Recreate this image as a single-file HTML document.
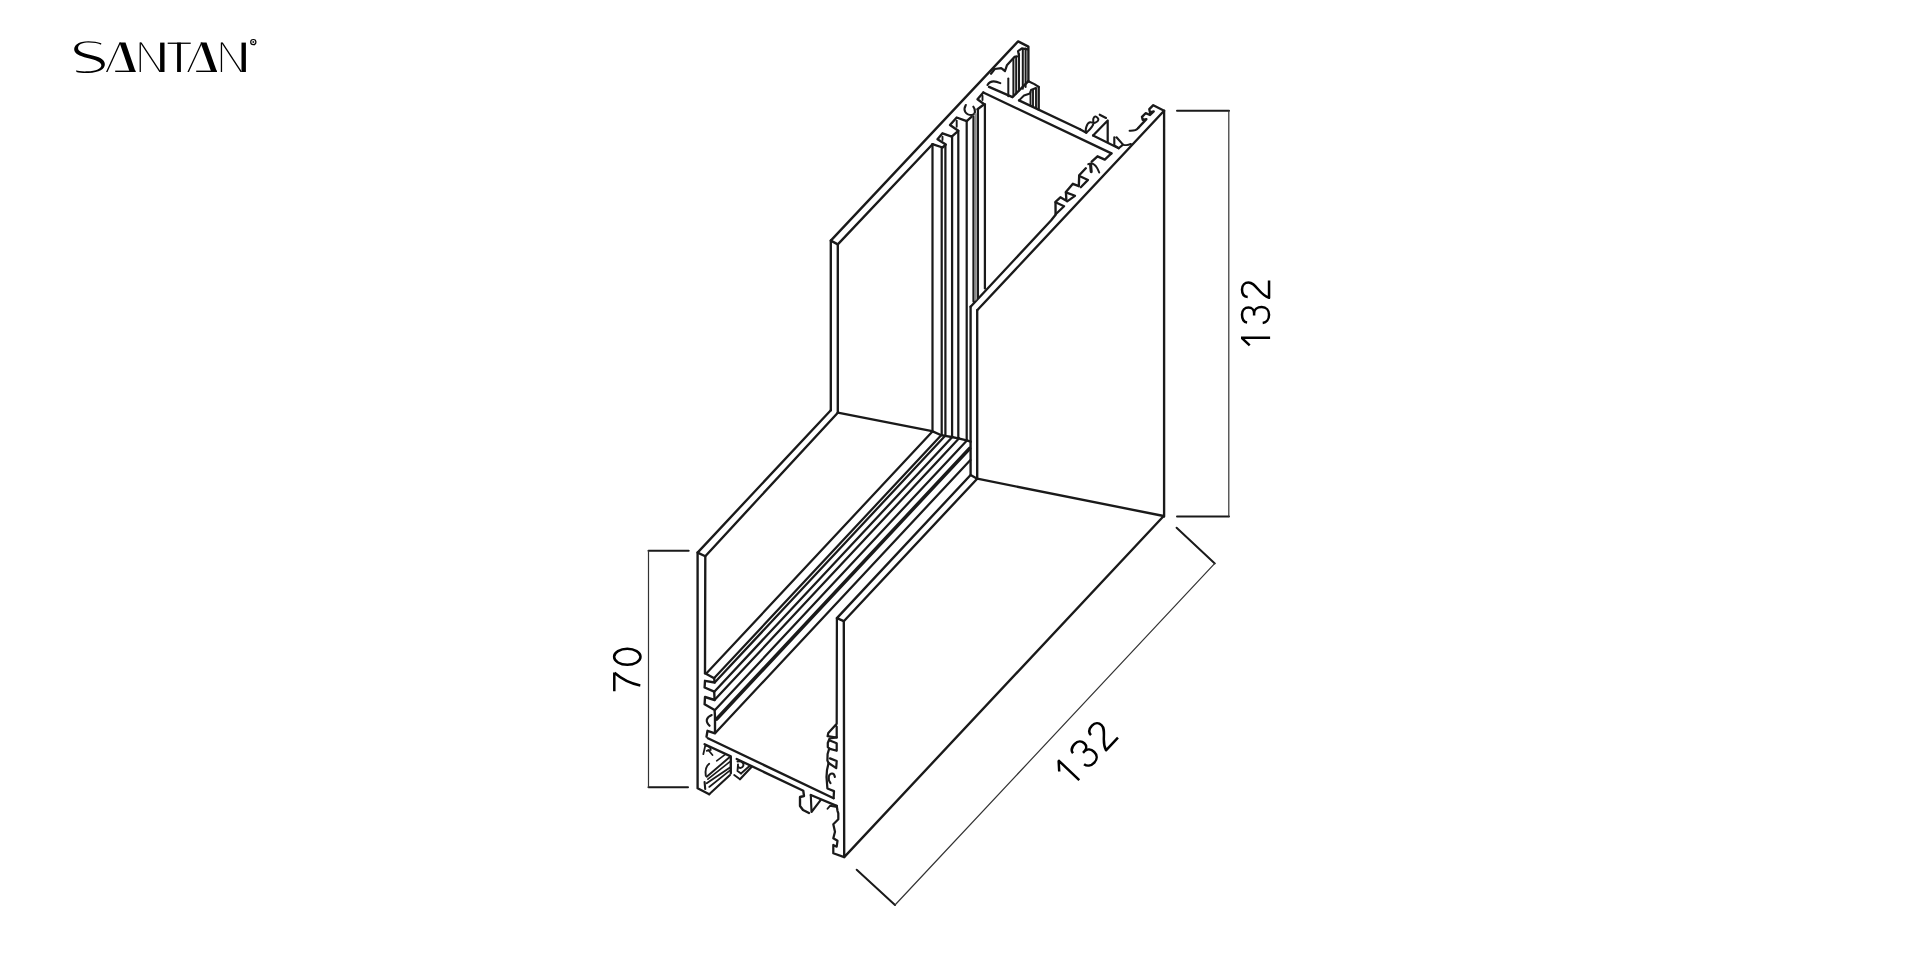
<!DOCTYPE html>
<html><head><meta charset="utf-8"><title>SANTAN profile</title>
<style>
html,body{margin:0;padding:0;background:#fff;width:1920px;height:960px;overflow:hidden}
svg{position:absolute;left:0;top:0}
</style></head><body>
<svg width="1920" height="960" viewBox="0 0 1920 960">
<rect width="1920" height="960" fill="#fff"/>

<path d="M101.34,43.34 C96.09,41.48 87.34,40.72 81.87,42.03 C76.41,43.34 74.00,46.41 74.22,49.69 C74.44,53.52 79.14,55.70 87.34,57.89 C96.09,60.08 101.01,61.72 101.34,65.00 C101.56,68.83 96.09,71.01 87.34,71.34 C81.87,71.56 78.05,71.01 76.19,70.25 L76.41,72.11 C79.69,72.87 84.06,73.20 88.44,72.98 C99.37,72.44 105.06,68.83 104.84,63.91 C104.62,58.98 98.83,56.80 90.62,54.94 C81.87,52.97 78.05,51.33 78.05,48.05 C78.05,44.22 82.97,42.58 88.98,42.58 C93.91,42.58 98.28,43.34 101.01,44.77 Z" fill="#000"/>
<path d="M106,72 L119.5,42.6 L120.9,42.6 L107.5,72 Z" fill="#000"/>
<path d="M119.5,42.6 L125.5,42.6 L135.6,72 L129.7,72 Z" fill="#000"/>
<path d="M115.2,70.6 L135.6,70.6 L135.6,72 L115.2,72 Z" fill="#000"/>
<path d="M139.6,42.6 L140.9,42.6 L140.9,72 L139.6,72 Z" fill="#000"/>
<path d="M140,42.6 L141.6,42.6 L161,72 L159.4,72 Z" fill="#000"/>
<path d="M160.1,42.6 L164.5,42.6 L164.5,72 L160.1,72 Z" fill="#000"/>
<path d="M167.7,42.6 L190.7,42.6 L190.7,43.9 L167.7,43.9 Z" fill="#000"/>
<path d="M177.1,42.6 L180.9,42.6 L180.9,72 L177.1,72 Z" fill="#000"/>
<path d="M187.4,72 L201.2,42.6 L202.5,42.6 L188.9,72 Z" fill="#000"/>
<path d="M200.5,42.6 L206.5,42.6 L217,72 L211.3,72 Z" fill="#000"/>
<path d="M196.2,70.6 L217,70.6 L217,72 L196.2,72 Z" fill="#000"/>
<path d="M220.8,42.6 L222.1,42.6 L222.1,72 L220.8,72 Z" fill="#000"/>
<path d="M221.2,42.6 L222.8,42.6 L242.1,72 L240.5,72 Z" fill="#000"/>
<path d="M241.5,42.6 L245.9,42.6 L245.9,72 L241.5,72 Z" fill="#000"/>
<circle cx="253.3" cy="42.1" r="2.6" fill="none" stroke="#000" stroke-width="1.2"/>
<circle cx="253.3" cy="42.1" r="1" fill="#222"/>

<g fill="none" stroke="#111" stroke-width="1.3" stroke-linecap="butt">
<path d="M1177,110.8 H1229" stroke-width="2.0" stroke="#1a1a1a" stroke-linecap="round"/>
<path d="M1177,516.6 H1229" stroke-width="2.0" stroke="#1a1a1a" stroke-linecap="round"/>
<path d="M1228.8,110.8 V516.6" stroke-width="1.2" stroke="#333" stroke-linecap="round"/>
<path d="M688.7,550.8 H648.5" stroke-width="2.0" stroke="#1a1a1a" stroke-linecap="round"/>
<path d="M688,787.3 H648.5" stroke-width="2.0" stroke="#1a1a1a" stroke-linecap="round"/>
<path d="M648.5,550.8 V787.3" stroke-width="1.2" stroke="#333" stroke-linecap="round"/>
<path d="M1176.6,527.8 L1214.8,563.4" stroke-width="2.0" stroke="#1a1a1a" stroke-linecap="round"/>
<path d="M895,905 L856.7,869.8" stroke-width="2.0" stroke="#1a1a1a" stroke-linecap="round"/>
<path d="M1214.8,563.4 L895,905" stroke-width="1.2" stroke="#333" stroke-linecap="round"/>
</g>
<g fill="none" stroke="#1a1a1a" stroke-linejoin="round" stroke-linecap="round">
<path d="M830.8,410.2 L830.8,240.6 L1018.1,41.4 L1028.4,46.6 L1028.4,81.2" stroke-width="2.36"/>
<path d="M1038.7,86.9 L1038.7,109.4" stroke-width="2.36"/>
<path d="M830.8,240.6 L837.8,244.4" stroke-width="2.36"/>
<path d="M837.8,412.7 L837.8,244.4 L932.5,144.2" stroke-width="2.36"/>
<path d="M932.5,144.2 L942.5,147.5 L945.8,144.6 L937.5,139.2 L942.5,133.3 L951.7,136.7 L958.3,130.8 L950.0,125.0 L956.7,117.5 L966.7,121.2 L971.7,116.7" stroke-width="2.36"/>
<path d="M965.8,105 C963,110 965,115 971.7,115 C975.5,115 976,110 973.3,106.7" stroke-width="2.12"/>
<path d="M942.5,136.7 L942.5,140.0" stroke-width="1.89"/>
<path d="M956.7,120.8 L956.7,126.7" stroke-width="1.89"/>
<path d="M982.5,95.8 L982.5,100.0" stroke-width="1.89"/>
<path d="M977.5,109.2 L984.2,104.2 L977.5,99.2 L983.3,92.5" stroke-width="2.36"/>
<path d="M983.3,92.5 L1111.4,153.4" stroke-width="2.36"/>
<path d="M989.0,86.9 L1012.5,97.2 L1028.4,81.2" stroke-width="2.36"/>
<path d="M1019.0,100.4 L1080.0,129.3" stroke-width="2.36"/>
<path d="M987.5,85 Q991,79 1000.3,83.1" stroke-width="2.12"/>
<path d="M991.0,73.7 L994.7,69.0 L1001.2,68.1 L1005.0,71.0 L1006.9,65.3 L1014.4,56.9 L1019.0,55.9 L1018.1,51.2 L1021.9,48.4 L1027.5,49.4" stroke-width="2.24"/>
<path d="M1008.3,78.4 L1008.3,96.2" stroke-width="2.01"/>
<path d="M1013.4,58.7 L1013.4,95.3" stroke-width="2.01"/>
<path d="M1016.2,57.8 L1016.2,93.4" stroke-width="2.01"/>
<path d="M1019.0,54.0 L1019.0,90.6" stroke-width="2.01"/>
<path d="M1022.8,49.4 L1022.8,88.7" stroke-width="2.01"/>
<path d="M1025.6,48.4 L1025.6,86.9" stroke-width="2.01"/>
<path d="M1028.4,81.2 L1034.4,84.1 L1038.7,86.9" stroke-width="2.12"/>
<path d="M1019.0,100.4 L1024.0,95.5 L1030.0,93.5 L1031.0,90.0 L1036.0,88.0" stroke-width="2.01"/>
<path d="M1030.5,92.0 L1030.5,105.5" stroke-width="1.89"/>
<path d="M1033.0,90.0 L1033.0,106.7" stroke-width="1.89"/>
<path d="M1036.0,88.5 L1036.0,108.0" stroke-width="1.89"/>
<path d="M1080.0,129.3 L1086.3,132.7" stroke-width="2.24"/>
<path d="M1086.33,132.67 C1084.67,129.67 1087.00,123.00 1090.00,122.33 C1092.00,122.00 1093.67,123.67 1095.33,122.67 C1098.00,121.33 1099.33,119.67 1097.67,118.00 C1096.00,115.67 1094.00,116.00 1093.33,118.67 C1092.67,121.33 1094.67,123.67 1092.00,126.67 C1090.67,128.67 1088.00,131.33 1086.33,132.67" stroke-width="2.01"/>
<path d="M1099.7,114.7 L1106.0,118.0" stroke-width="2.12"/>
<path d="M1093.1,135.5 L1107.7,120.5 L1107.7,141.7" stroke-width="2.24"/>
<path d="M1093.1,135.5 L1118.7,148.2" stroke-width="2.36"/>
<path d="M1114.3,137.3 L1114.3,145.3 L1118.7,148.2 L1123.0,144.6 L1116.5,137.3" stroke-width="2.12"/>
<path d="M1123,144.6 Q1127,146 1131,143.9" stroke-width="1.89"/>
<path d="M1164.1,516.6 L1164.1,110.7 L1153.3,105.2 L1149.3,109.2 L1150.0,112.5 L1153.7,111.4 L1150.0,115.0 L1145.6,113.2 L1142.0,116.9 L1142.7,119.8 L1146.4,119.1 L1138.4,127.8" stroke-width="2.36"/>
<path d="M1138.4,127.8 Q1136,131 1129.6,130.7" stroke-width="2.01"/>
<path d="M977.2,310.3 L1164.1,110.7" stroke-width="2.36"/>
<path d="M1111.4,153.4 L1104.8,159.6 L1097.5,156.3 L1091.7,161.7" stroke-width="2.36"/>
<path d="M1088.3,164.2 Q1095,161 1099.2,172.5" stroke-width="2.01"/>
<path d="M1090.6,165.0 L1091.2,171.7" stroke-width="3.07"/>
<path d="M970.6,306.7 L1051.0,220.5 L1055.6,214.8 L1055.5,201.8 L1060.4,197.3 L1066.4,200.7 L1065.9,191.9 L1072.9,183.8 L1078.8,186.2 L1079.2,175.2 L1085.8,168.3" stroke-width="2.36"/>
<path d="M1055.5,202.3 L1064.1,206.2 L1055.7,214.3" stroke-width="2.24"/>
<path d="M1065.9,192.4 L1075.0,195.8 L1067.2,201.3" stroke-width="2.24"/>
<path d="M1079.4,176.0 L1088.0,179.9 L1080.8,187.2" stroke-width="2.24"/>
<path d="M970.6,306.7 L970.6,475.0 L977.2,478.7 L977.2,310.3" stroke-width="2.36"/>
<path d="M977.2,478.7 L1163.7,516.0" stroke-width="2.36"/>
<path d="M932.5,144.2 L932.5,431.2" stroke-width="2.24"/>
<path d="M941.7,147.5 L941.7,435.0" stroke-width="2.24"/>
<path d="M945.4,145.0 L945.4,435.8" stroke-width="2.24"/>
<path d="M952.1,136.7 L952.1,437.0" stroke-width="2.24"/>
<path d="M958.3,130.8 L958.3,438.3" stroke-width="2.24"/>
<path d="M966.7,121.3 L966.7,440.4" stroke-width="2.24"/>
<path d="M973.5,116.7 L973.5,301.6" stroke-width="2.24"/>
<path d="M977.9,109.2 L977.9,297.2" stroke-width="2.24"/>
<path d="M984.9,104.2 L984.9,288.4" stroke-width="2.24"/>
<path d="M975.6,114.0 L975.6,299.5" stroke-width="2.2" stroke="#8c8c8c"/>
<path d="M837.8,412.7 L932.1,431.2 L940.8,435.0 L945.0,435.8 L951.7,437.0 L958.3,438.3 L966.7,440.4 L970.6,441.7" stroke-width="2.36"/>
<path d="M830.8,410.2 L697.6,552.6 L697.6,788.3 L709.2,794.2" stroke-width="2.36"/>
<path d="M697.6,552.6 L705.3,556.2" stroke-width="2.36"/>
<path d="M837.8,412.7 L705.3,556.2 L705.0,673.3" stroke-width="2.36"/>
<path d="M932.0,432.0 L706.5,673.3" stroke-width="2.24"/>
<path d="M941.4,435.0 L714.0,678.3" stroke-width="2.24"/>
<path d="M945.2,435.8 L714.7,682.5" stroke-width="2.24"/>
<path d="M952.3,437.0 L714.3,691.7" stroke-width="2.24"/>
<path d="M959.1,438.3 L714.5,700.0" stroke-width="2.24"/>
<path d="M966.9,440.4 L715.0,710.0" stroke-width="2.24"/>
<path d="M969.6,448.5 L716.7,719.0" stroke-width="3.54"/>
<path d="M970.4,460.0 L715.3,733.0" stroke-width="2.24"/>
<path d="M970.6,475.0 L836.9,618.1 L843.8,621.2 L977.2,478.7" stroke-width="2.36"/>
<path d="M843.8,621.2 L844.2,857.1 L1163.7,516.0" stroke-width="2.36"/>
<path d="M705.0,673.3 L714.2,678.3 L714.6,682.5 L705.0,680.8 L704.6,687.5 L714.2,691.7 L714.6,700.0 L705.0,697.0 L704.6,704.2 L714.6,710.0 L715.0,716.7 L715.0,733.3 L707.5,730.8 L706.5,736.7" stroke-width="2.36"/>
<path d="M711.7,715 Q703,719 709.6,725.8" stroke-width="2.12"/>
<path d="M707.9,738.3 L833.6,798.2" stroke-width="2.36"/>
<path d="M704.6,744.2 L730.8,756.4 L730.8,773.3" stroke-width="2.36"/>
<path d="M736.7,759.0 L803.3,790.8 L804.0,796.0 L800.0,797.0 L800.0,806.0 L803.0,810.0 L809.0,813.0" stroke-width="2.36"/>
<path d="M810.8,795.0 L836.7,805.8" stroke-width="2.36"/>
<path d="M810.8,795.0 L811.5,812.0 L820.8,799.8" stroke-width="2.12"/>
<path d="M704.6,782.0 L705.2,789.0" stroke-width="2.12"/>
<path d="M703.3,754.2 L705.4,745.0 L710.0,747.5 L710.8,750.0 L706.7,750.8" stroke-width="1.77"/>
<path d="M708.3,750.0 L712.5,755.0" stroke-width="1.77"/>
<path d="M716.7,760.8 L725.0,754.6" stroke-width="1.65"/>
<path d="M706.7,776.7 L729.2,757.5" stroke-width="1.89"/>
<path d="M707.9,779.2 L730.0,761.7" stroke-width="1.65"/>
<path d="M706.7,783.3 L730.0,767.5" stroke-width="1.89"/>
<path d="M709.2,787.0 L730.0,770.4" stroke-width="1.65"/>
<path d="M709.2,794.2 L730.0,775.0" stroke-width="2.12"/>
<path d="M709.2,763.7 C706,766 705,770 705.8,775.8" stroke-width="1.89"/>
<path d="M737.5,761.5 C742,760.5 745,764 742.5,767 C740,769 737.5,767.5 738,764.5 L737.5,771 L741,773.5" stroke-width="1.89"/>
<path d="M740.0,779.2 L751.7,766.7" stroke-width="2.12"/>
<path d="M741.0,773.5 L749.5,766.0" stroke-width="1.77"/>
<path d="M734.2,775.0 L740.0,779.2" stroke-width="1.89"/>
<path d="M836.9,618.1 L836.7,723.8 L828.3,733.1 L827.6,736.2 L836.7,737.5 L836.7,726.5" stroke-width="2.24"/>
<path d="M836.7,737.5 L829.6,738.5 L827.8,743.0 L827.8,747.0 L829.2,748.6 L836.7,750.8 L836.7,743.3 L830.5,740.8" stroke-width="2.24"/>
<path d="M829.2,748.6 L827.6,754.0 L827.4,760.5 L828.6,763.0 L836.2,768.1 L836.7,761.0 L830.0,758.4" stroke-width="2.24"/>
<path d="M828.6,763.0 L827.0,770.0 L826.5,777.0 L827.4,788.5 L834.0,791.1 L833.6,798.2" stroke-width="2.24"/>
<path d="M834.9,777 C834,772 830,773 828.8,776.5 C828.3,779 829.2,781.5 830.5,783.1" stroke-width="2.12"/>
<path d="M836.7,805.8 L837.5,810.8 L838.3,813.3 L838.3,819.2 L833.3,824.2 L835.0,831.7 L833.3,838.3 L837.5,840.8 L836.7,846.7 L833.3,845.0 L833.3,853.3 L844.2,857.1" stroke-width="2.24"/>
<path d="M827.5,808.75 L830,805.8 L835.8,806.7" stroke-width="1.89"/>
</g>
<g fill="none" stroke="#000" stroke-width="2.5" stroke-linecap="butt" stroke-linejoin="round">
<path transform="matrix(0.00000,-1.00000,1.00000,0.00000,1270.30,348.00)" d="M10.2,-0.2 V-29.3 M10.2,-28.6 L2.6,-20.6 M25.4,-23.2 C25.8,-27 29.2,-28.3 33.4,-28.3 C37.8,-28.3 40.4,-25.4 40.4,-21.8 C40.4,-18.2 37.8,-16.2 34.8,-16.2 L32.6,-16.2 M34.8,-16.2 C38.6,-16.2 40.9,-13 40.9,-8.6 C40.9,-4 37.6,-1.25 33.2,-1.25 C28.4,-1.25 25.4,-4 25,-7.6 M50.9,-22.6 C51.1,-26.6 54.2,-28.3 58.4,-28.3 C62.8,-28.3 65.4,-25.4 65.4,-21.8 C65.4,-18.2 63,-16 58.5,-12 C55,-9 51.5,-5 50.2,-1.25 L67.6,-1.25"/>
<path transform="matrix(0.00000,-1.00000,1.00000,0.00000,641.80,692.00)" d="M0.8,-27.5 H19.6 M19.2,-27.3 C14.5,-22 8.5,-12 6.6,-1.5 M35.2,-14.5 m-8,0 a8,13.2 0 1,0 16,0 a8,13.2 0 1,0 -16,0"/>
<path transform="matrix(0.68709,-0.72657,0.72657,0.68709,1072.40,787.60)" d="M10.2,-0.2 V-29.3 M10.2,-28.6 L2.6,-20.6 M25.4,-23.2 C25.8,-27 29.2,-28.3 33.4,-28.3 C37.8,-28.3 40.4,-25.4 40.4,-21.8 C40.4,-18.2 37.8,-16.2 34.8,-16.2 L32.6,-16.2 M34.8,-16.2 C38.6,-16.2 40.9,-13 40.9,-8.6 C40.9,-4 37.6,-1.25 33.2,-1.25 C28.4,-1.25 25.4,-4 25,-7.6 M50.9,-22.6 C51.1,-26.6 54.2,-28.3 58.4,-28.3 C62.8,-28.3 65.4,-25.4 65.4,-21.8 C65.4,-18.2 63,-16 58.5,-12 C55,-9 51.5,-5 50.2,-1.25 L67.6,-1.25"/>
</g>
</svg>
</body></html>
